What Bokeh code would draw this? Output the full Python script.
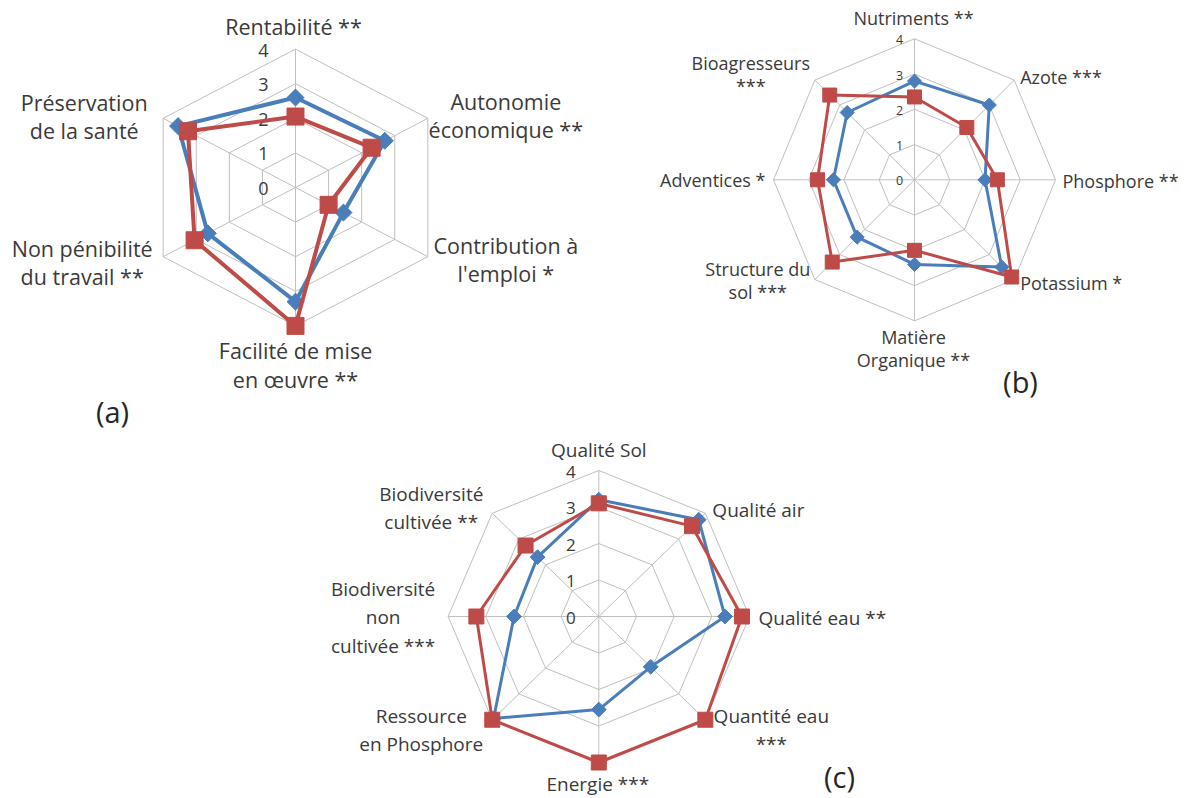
import numpy as np
from bokeh.plotting import figure
from bokeh.layouts import column, row
from bokeh.models import Spacer, Range1d
from bokeh.embed import file_html
from bokeh.resources import INLINE
from bokeh.core.properties import value

# ---------------- data ----------------
a_labels = ["Rentabilité **", "Autonomie\néconomique **", "Contribution à\nl'emploi *",
            "Facilité de mise\nen œuvre **", "Non pénibilité\ndu travail **", "Préservation\nde la santé"]
a_blue = [2.6, 2.7, 1.45, 3.3, 2.65, 3.55]
a_red = [2.05, 2.3, 1.0, 4.0, 3.05, 3.25]

b_labels = ["Nutriments **", "Azote ***", "Phosphore **", "Potassium *", "Matière\nOrganique **",
            "Structure du\nsol ***", "Adventices *", "Bioagresseurs\n***"]
b_blue = [2.8, 3.0, 2.0, 3.5, 2.4, 2.3, 2.3, 2.7]
b_red = [2.35, 2.1, 2.35, 3.9, 2.0, 3.3, 2.75, 3.4]

c_labels = ["Qualité Sol", "Qualité air", "Qualité eau **", "Quantité eau\n***", "Energie ***",
            "Ressource\nen Phosphore", "Biodiversité\nnon\ncultivée ***", "Biodiversité\ncultivée **"]
c_blue = [3.2, 3.75, 3.35, 1.95, 2.55, 3.95, 2.25, 2.3]
c_red = [3.1, 3.5, 3.8, 4.0, 4.0, 4.0, 3.25, 2.75]

ticks = [0, 1, 2, 3, 4]
panel_names = ["(a)", "(b)", "(c)"]

BLUE = "#4A7EBB"
RED = "#BE4B48"
GRID = "#BFBFBF"
TXT = "#3A3A3A"
FONT = value("Open Sans")


def make_radar(labels, blue, red, w, h, cx, cy, sx, sy, lab_style, fs, lh, tick_fs, tick_dx,
               lw, sq, dm, panel, panel_pos):
    p = figure(width=w, height=h,
               x_range=Range1d(-cx / sx, (w - cx) / sx),
               y_range=Range1d(-(h - cy) / sy, cy / sy),
               output_backend="svg", toolbar_location=None, min_border=0,
               x_axis_location=None, y_axis_location=None)
    p.grid.visible = False
    p.outline_line_color = None
    n = len(labels)
    ang = np.arange(n) * 2 * np.pi / n
    sn, cs = np.sin(ang), np.cos(ang)
    vmax = ticks[-1]
    # rings
    for t in ticks[1:]:
        p.line(list(t * sn) + [t * sn[0]], list(t * cs) + [t * cs[0]], line_color=GRID, line_width=1)
    # spokes
    for i in range(n):
        p.line([0, vmax * sn[i]], [0, vmax * cs[i]], line_color=GRID, line_width=1)
    # tick labels
    p.text(x=[0] * len(ticks), y=ticks, text=[str(t) for t in ticks], x_offset=tick_dx, y_offset=1,
           text_align="center", text_baseline="middle", text_font=FONT,
           text_font_size=f"{tick_fs}px", text_color=TXT)
    # series
    for vals, col, kind in [(blue, BLUE, "d"), (red, RED, "s")]:
        v = np.array(vals)
        xs, ys = v * sn, v * cs
        p.line(list(xs) + [xs[0]], list(ys) + [ys[0]], line_color=col, line_width=lw, line_join="round")
        if kind == "d":
            p.scatter(xs, ys, marker="square", angle=np.pi / 4, size=dm, fill_color=col, line_color=col)
        else:
            p.scatter(xs, ys, marker="square", size=sq, fill_color=col, line_color=col)
    # category labels
    for i in range(n):
        align, dx, dy = lab_style[i]
        p.text(x=[vmax * sn[i]], y=[vmax * cs[i]], text=[labels[i]], x_offset=dx, y_offset=dy,
               text_align=align, text_baseline="middle", text_font=FONT,
               text_font_size=f"{fs}px", text_color=TXT, text_line_height=lh)
    # panel label
    p.text(x=[(panel_pos[0] - cx) / sx], y=[(cy - panel_pos[1]) / sy], text=[panel],
           text_align="center", text_baseline="middle", text_font=FONT,
           text_font_size="29px", text_color="#262626")
    return p


a_style = [("center", -2, -23), ("center", 78, -3), ("center", 78, 3), ("center", 0, 39),
           ("center", -81, 6), ("center", -79, -2)]
fa = make_radar(a_labels, a_blue, a_red, 598, 433, 295, 187, 38.2, 34.6, a_style,
                21.5, 0.98, 18, -32, 4, 17, 12, panel_names[0], (112, 411))

b_style = [("center", -1, -21), ("left", 6, -3), ("left", 7, 1), ("left", 6, 3),
           ("center", -1, 28), ("center", -57, 1), ("right", -8, 0), ("center", -64, -6)]
fb = make_radar(b_labels, b_blue, b_red, 586, 433, 316, 179.3, 35.25, 35.25, b_style,
                18, 0.96, 12.5, -15, 3, 14, 10, panel_names[1], (422, 381))

c_style = [("center", 0, -21), ("left", 7, -3), ("left", 9, 1), ("center", 66, 10),
           ("center", -1, 21), ("center", -71, 10), ("center", -65, 1), ("center", -61, -5)]
fc = make_radar(c_labels, c_blue, c_red, 650, 365, 348.3, 183, 37.67, 36.5, c_style,
                19, 1.08, 17, -28, 3, 15, 10.5, panel_names[2], (589, 343))

layout = column(row(fa, fb),
                row(Spacer(width=250, height=365), fc, Spacer(width=284, height=365)))

open("out.html", "w").write(file_html(layout, INLINE))
